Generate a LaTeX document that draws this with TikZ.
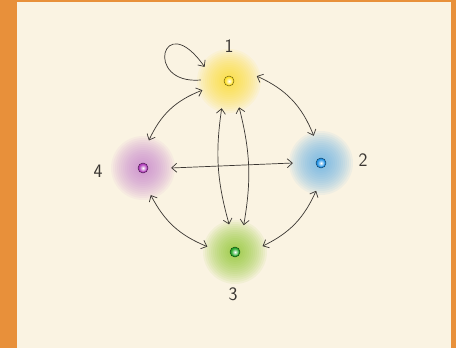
\documentclass[tikz,border=0pt]{standalone}
\usetikzlibrary{arrows.meta}
\definecolor{paper}{RGB}{250,243,226}
\definecolor{frame}{RGB}{232,144,58}
\definecolor{ink}{RGB}{58,54,50}
\definecolor{gy}{RGB}{255,220,20}
\definecolor{dy}{RGB}{255,225,40}
\definecolor{gb}{RGB}{80,170,230}
\definecolor{db}{RGB}{30,145,230}
\definecolor{gp}{RGB}{195,120,205}
\definecolor{dp}{RGB}{175,60,185}
\definecolor{gg}{RGB}{130,195,25}
\definecolor{dg}{RGB}{35,165,40}
\tikzset{
  vert/.style={circle, minimum size=56pt, inner sep=0pt},
  edge/.style={draw=ink, line width=0.7pt, {Straight Barb[length=5pt,width=9pt]}-{Straight Barb[length=5pt,width=9pt]}},
  loopedge/.style={draw=ink, line width=0.7pt, -{Straight Barb[length=5pt,width=9pt]}},
  lbl/.style={text=ink, font=\fontsize{19}{19}\selectfont\sffamily, inner sep=0pt}
}
\newcommand{\glow}[3]{%
  \foreach \r in {32,30,...,4} {\fill[#2, opacity=0.07] (#1) circle (\r);}
  \fill[#3] (#1) circle (5);
  \shade[inner color=white, outer color=#3] (#1) circle (4);
  \draw[#3!40!black, line width=0.45pt] (#1) circle (5);
}
\begin{document}
\begin{tikzpicture}[x=1pt, y=-1pt]
\useasboundingbox (0,0) rectangle (456,348);
\fill[frame] (0,0) rectangle (456,348);
\fill[paper] (17,1.5) rectangle (451,348);

\node[vert] (n1) at (229,81) {};
\node[vert] (n2) at (321,163) {};
\node[vert] (n3) at (235,252) {};
\node[vert] (n4) at (143,168) {};

\glow{n1}{gy}{dy}
\glow{n2}{gb}{db}
\glow{n3}{gg}{dg}
\glow{n4}{gp}{dp}

\node[lbl] (l1) at (229,46) {1};
\node[lbl] (l2) at (363,160) {2};
\node[lbl] (l3) at (233,294) {3};
\node[lbl] (l4) at (98,171) {4};

\path[loopedge] (n1.178) .. controls +(-58,5) and +(-42,-60) .. (n1.150);
\path[edge] (n1.199) to[bend right=22] (n4.78);
\path[edge] (n1.10) to[bend left=22] (n2.105);
\path[edge] (n4.0) -- (n2.180);
\path[edge] (n1.255) to[bend right=12] (n3.102);
\path[edge] (n1.291) to[bend left=12] (n3.72);
\path[edge] (n4.286) to[bend right=20] (n3.169);
\path[edge] (n2.260) to[bend left=20] (n3.12);
\end{tikzpicture}
\end{document}
